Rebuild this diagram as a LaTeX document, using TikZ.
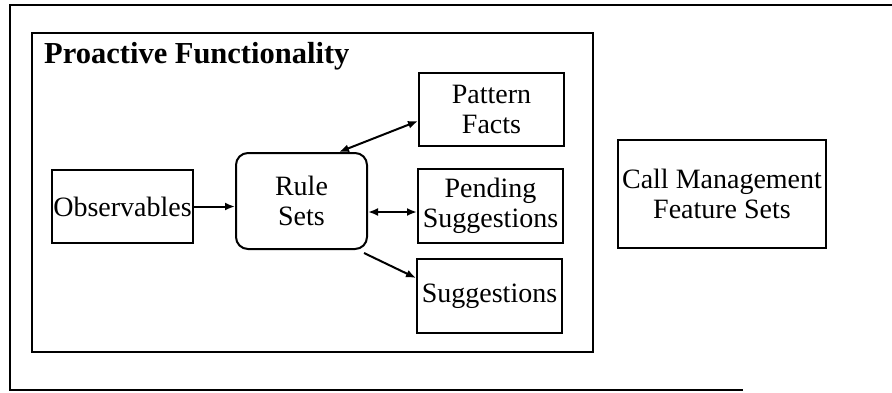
\documentclass[tikz,border=0pt]{standalone}
\usepackage{fontspec}
\setmainfont{Liberation Serif}
\usetikzlibrary{arrows.meta}
\begin{document}
\begin{tikzpicture}[x=1pt,y=-1pt,
  box/.style={draw,line width=2pt,inner sep=0pt,align=center,font=\fontsize{28}{30}\selectfont},
  tip/.style={Latex[length=10pt,width=8pt]},
  link/.style={line width=2pt,-{Latex[length=10pt,width=8pt]}},
  both/.style={line width=2pt,{Latex[length=10pt,width=8pt]}-{Latex[length=10pt,width=8pt]}}]
\useasboundingbox (0,0) rectangle (892,392);
% partial outer frame
\draw[line width=1.6pt] (892,5) -- (10,5) -- (10,390) -- (743,390);
% proactive functionality group
\draw[line width=2pt] (32,33) rectangle (593,352);
\node[anchor=base west,font=\bfseries\fontsize{30.5}{32}\selectfont,inner sep=0pt] (title) at (44,63) {Proactive Functionality};
% component boxes
\node[box,minimum width=141pt,minimum height=73pt] (obs) at (122.5,206.5) {Observables};
\node[box,rounded corners=12pt,minimum width=131pt,minimum height=96pt] (rules) at (301.5,201) {Rule\\Sets};
\node[box,minimum width=145pt,minimum height=73pt] (pattern) at (491.5,109.5) {Pattern\\Facts};
\node[box,minimum width=145pt,minimum height=74pt] (pending) at (490.5,206) {Pending\\Suggestions};
\node[box,minimum width=145pt,minimum height=74pt] (sugg) at (489.5,296) {Suggestions};
\node[box,minimum width=208pt,minimum height=108pt] (call) at (722,194) {Call Management\\Feature Sets};
% connectors
\draw[link] (obs.east) -- (obs.east -| rules.west);
\draw[both] (rules.north east) ++(-29pt,0) coordinate (rn) (rn) -- (pattern.west |- 0,121) coordinate (pw);
\draw[both] (rules.east |- 0,212) coordinate (re) (re) -- (pending.west |- 0,212);
\draw[link] (rules.south east) ++(-4pt,-3pt) coordinate (rs) (rs) -- (sugg.west |- 0,278);
\end{tikzpicture}
\end{document}
